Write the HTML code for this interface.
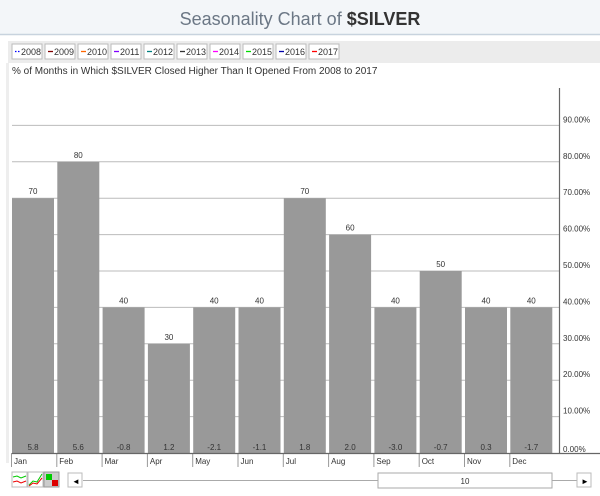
<!DOCTYPE html>
<html><head><style>
body{margin:0;width:600px;height:491px;overflow:hidden;background:#fff;font-family:"Liberation Sans",sans-serif}
</style></head><body>
<svg width="600" height="491" xmlns="http://www.w3.org/2000/svg" font-family="Liberation Sans, sans-serif">
<rect x="0" y="0" width="600" height="34" fill="#f3f6f9"/>
<line x1="0" y1="34.5" x2="600" y2="34.5" stroke="#c8d3de" stroke-width="1.5"/>
<text x="300" y="25" text-anchor="middle" font-size="18" fill="#6b7785">Seasonality Chart of <tspan font-weight="bold" fill="#333">$SILVER</tspan></text>
<rect x="0" y="36" width="600" height="28" fill="#fff"/>
<rect x="8" y="41" width="592" height="22" fill="#ececec"/>
<rect x="6" y="63" width="3" height="400" fill="#eee"/>
<g id="lg"></g>
<text x="12" y="74" font-size="10" fill="#333">% of Months in Which $SILVER Closed Higher Than It Opened From 2008 to 2017</text>
<g id="chart"></g>
</svg>
<script>
(function(){
var ns="http://www.w3.org/2000/svg";
function el(p,t,a,txt){var e=document.createElementNS(ns,t);for(var k in a)e.setAttribute(k,a[k]);if(txt!=null)e.textContent=txt;p.appendChild(e);return e;}
var lg=document.getElementById('lg');
var yrs=['2008','2009','2010','2011','2012','2013','2014','2015','2016','2017'];
var cols=['#00f','#800000','#ff6600','#8000ff','#008080','#333','#ff00ff','#00dd00','#0000aa','#ff0000'];
for(var i=0;i<10;i++){var x=12+i*33;el(lg,'rect',{x:x,y:44,width:30,height:15,fill:'#fff',stroke:'#bbb'});
el(lg,'line',{x1:x+3,y1:51.5,x2:x+8,y2:51.5,stroke:cols[i],'stroke-width':1.3,'stroke-dasharray':i==0?'1.5,1.5':'none'});
el(lg,'text',{x:x+9,y:55,'font-size':9,fill:'#333'},yrs[i]);}
var c=document.getElementById('chart');
var y0=453,s=3.64;
for(var v=10;v<=90;v+=10){var y=y0-v*s;el(c,'line',{x1:12,y1:y,x2:559,y2:y,stroke:'#bbb'});el(c,'text',{x:563,y:y-3,'font-size':8,fill:'#333'},v.toFixed(2)+'%');}
el(c,'text',{x:563,y:y0-1,'font-size':8,fill:'#333'},'0.00%');
var vals=[70,80,40,30,40,40,70,60,40,50,40,40];
var b=['5.8','5.6','-0.8','1.2','-2.1','-1.1','1.8','2.0','-3.0','-0.7','0.3','-1.7'];
var m=['Jan','Feb','Mar','Apr','May','Jun','Jul','Aug','Sep','Oct','Nov','Dec'];
for(var i=0;i<12;i++){var x=12+i*45.3;var ty=y0-vals[i]*s;
el(c,'rect',{x:x,y:ty,width:42,height:y0-ty,fill:'#999'});
el(c,'text',{x:x+21,y:ty-4,'text-anchor':'middle','font-size':8,fill:'#333'},String(vals[i]));
el(c,'text',{x:x+21,y:y0-3,'text-anchor':'middle','font-size':8,fill:'#333'},b[i]);
el(c,'line',{x1:x-0.5,y1:y0,x2:x-0.5,y2:467,stroke:'#999'});
el(c,'text',{x:x+2,y:464,'font-size':8,fill:'#333'},m[i]);}
el(c,'line',{x1:12,y1:y0+0.5,x2:600,y2:y0+0.5,stroke:'#666','stroke-width':1.2});
el(c,'line',{x1:559.5,y1:88,x2:559.5,y2:y0,stroke:'#666','stroke-width':1.2});
el(c,'rect',{x:12,y:472,width:15,height:15,fill:'#fff',stroke:'#bbb'});
el(c,'polyline',{points:'13,477 17,476 21,478 26,476',fill:'none',stroke:'#0c0'});
el(c,'polyline',{points:'13,482 17,481 21,483 26,481',fill:'none',stroke:'#e00'});
el(c,'rect',{x:28,y:472,width:15,height:15,fill:'#fff',stroke:'#bbb'});
el(c,'polyline',{points:'29,485 33,481 37,482 42,474',fill:'none',stroke:'#0c0'});
el(c,'polyline',{points:'29,486 33,483 37,484 42,478',fill:'none',stroke:'#e00'});
el(c,'rect',{x:44,y:472,width:15,height:15,fill:'#ccc',stroke:'#999'});
el(c,'rect',{x:46,y:474,width:6,height:6,fill:'#0c0'});el(c,'rect',{x:52,y:480,width:6,height:6,fill:'#d00'});
el(c,'rect',{x:68,y:473,width:14,height:14,fill:'#fff',stroke:'#bbb'});
el(c,'text',{x:72,y:484,'font-size':8,fill:'#000'},'◄');
el(c,'line',{x1:83,y1:480.5,x2:577,y2:480.5,stroke:'#aaa'});
el(c,'rect',{x:378,y:473,width:174,height:15,fill:'#fff',stroke:'#aaa'});
el(c,'text',{x:465,y:484,'text-anchor':'middle','font-size':8,fill:'#333'},'10');
el(c,'rect',{x:577,y:473,width:14,height:14,fill:'#fff',stroke:'#bbb'});
el(c,'text',{x:581,y:484,'font-size':8,fill:'#000'},'►');
})();
</script>
</body></html>
